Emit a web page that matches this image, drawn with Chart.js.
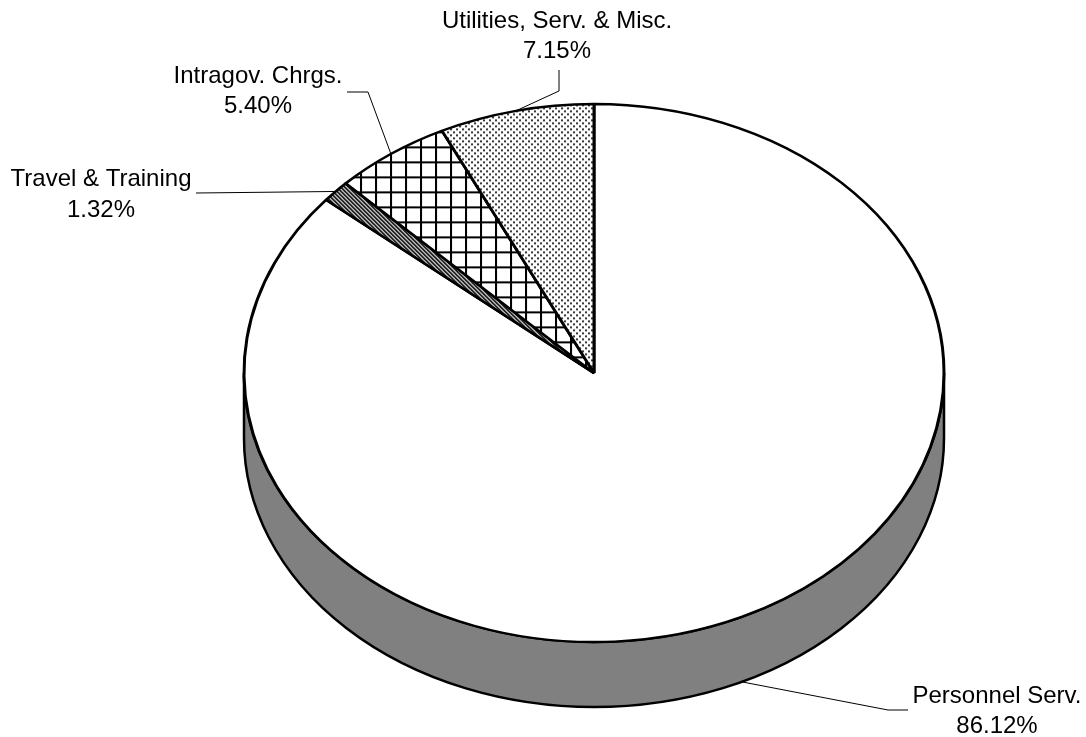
<!DOCTYPE html>
<html lang="en">
<head>
<meta charset="UTF-8">
<title>Expenditure Breakdown</title>
<script src="https://cdn.jsdelivr.net/npm/chart.js"></script>
<style>
  html, body { margin: 0; padding: 0; background: #fff; }
  #wrap { width: 1086px; height: 737px; }
</style>
</head>
<body>
<div id="wrap"><canvas id="pieChart" width="1086" height="737"></canvas></div>
<script>
// data, clockwise from 12 o'clock
const categories = ['Personnel Serv.', 'Travel & Training', 'Intragov. Chrgs.', 'Utilities, Serv. & Misc.'];
const shares = [86.12, 1.32, 5.40, 7.15];
const shareLabels = shares.map(v => v.toFixed(2) + '%');

// where the labels sit (x centre, two baselines) and the bends of the leader lines
const labelX = [997, 101, 258, 557];
const labelY = [[703, 733], [186, 217], [83, 113], [28, 58]];
const leaderBends = [
    [[888, 710], [908, 710]],
    [[196, 193]],
    [[368, 92], [347, 92]],
    [[559, 91], [559, 70]]
];

const tilt = 269 / 350;   // vertical squash of the pie
const depth = 65;         // thickness of the side

const canvas = document.getElementById('pieChart');
const ctx = canvas.getContext('2d');

function makePattern(w, h, paint) {
    const tile = document.createElement('canvas');
    tile.width = w;
    tile.height = h;
    const g = tile.getContext('2d');
    g.fillStyle = '#fff';
    g.fillRect(0, 0, w, h);
    paint(g);
    const p = ctx.createPattern(tile, 'repeat');
    // undo the squash so the tiles stay square on screen
    p.setTransform(new DOMMatrix().scale(1, 1 / tilt));
    return p;
}

const dots = makePattern(6, 6, g => {
    g.fillStyle = '#3a3a3a';
    g.fillRect(0, 0, 2, 2);
    g.fillRect(3, 3, 2, 2);
});
const grid = makePattern(15, 15, g => {
    g.fillStyle = '#000';
    g.fillRect(0, 0, 15, 2);
    g.fillRect(0, 0, 2, 15);
});
const stripes = makePattern(4, 4, g => {
    g.strokeStyle = '#000';
    g.lineWidth = 1.6;
    g.beginPath();
    g.moveTo(-1, -1); g.lineTo(5, 5);
    g.moveTo(-1, 3); g.lineTo(1, 5);
    g.moveTo(3, -1); g.lineTo(5, 1);
    g.stroke();
});

const fills = ['#ffffff', stripes, grid, dots];

// squash the pie into an ellipse and draw the grey side under it
const tiltPlugin = {
    id: 'tilt',
    beforeDatasetsDraw(chart) {
        const c = chart.ctx;
        const arc = chart.getDatasetMeta(0).data[0];
        const x = arc.x, y = arc.y, r = arc.outerRadius;
        const ry = r * tilt;
        c.save();
        c.beginPath();
        c.ellipse(x, y + depth, r, ry, 0, 0, Math.PI, false);
        c.lineTo(x - r, y);
        c.ellipse(x, y, r, ry, 0, Math.PI, 0, true);
        c.closePath();
        c.fillStyle = '#808080';
        c.fill();
        c.lineWidth = 2.5;
        c.strokeStyle = '#000';
        c.stroke();
        c.restore();

        c.save();
        c.translate(0, y);
        c.scale(1, tilt);
        c.translate(0, -y);
    },
    afterDatasetsDraw(chart) {
        chart.ctx.restore();
    }
};

// labels with leader lines
const labelPlugin = {
    id: 'leaders',
    afterDraw(chart) {
        const c = chart.ctx;
        const arcs = chart.getDatasetMeta(0).data;
        c.save();
        c.strokeStyle = '#000';
        c.lineWidth = 1;
        c.fillStyle = '#000';
        c.font = '24px "Liberation Sans", Arial, sans-serif';
        c.textAlign = 'center';
        c.textBaseline = 'alphabetic';
        arcs.forEach((arc, i) => {
            const mid = (arc.startAngle + arc.endAngle) / 2;
            const r = arc.outerRadius;
            let ax = arc.x + r * Math.cos(mid);
            let ay = arc.y + r * tilt * Math.sin(mid);
            if (Math.sin(mid) > 0) ay += depth;
            c.beginPath();
            c.moveTo(ax, ay);
            leaderBends[i].forEach(p => c.lineTo(p[0], p[1]));
            c.stroke();
            c.fillText(categories[i], labelX[i], labelY[i][0]);
            c.fillText(shareLabels[i], labelX[i], labelY[i][1]);
        });
        c.restore();
    }
};

new Chart(ctx, {
    type: 'pie',
    data: {
        labels: categories,
        datasets: [{
            data: shares,
            backgroundColor: fills,
            borderColor: '#000',
            borderWidth: 3,
            clip: false
        }]
    },
    options: {
        responsive: false,
        animation: false,
        events: [],
        radius: 350,
        layout: { padding: { left: 102, right: 0, top: 9, bottom: 0 } },
        plugins: {
            legend: { display: false },
            tooltip: { enabled: false }
        }
    },
    plugins: [tiltPlugin, labelPlugin]
});
</script>
</body>
</html>
